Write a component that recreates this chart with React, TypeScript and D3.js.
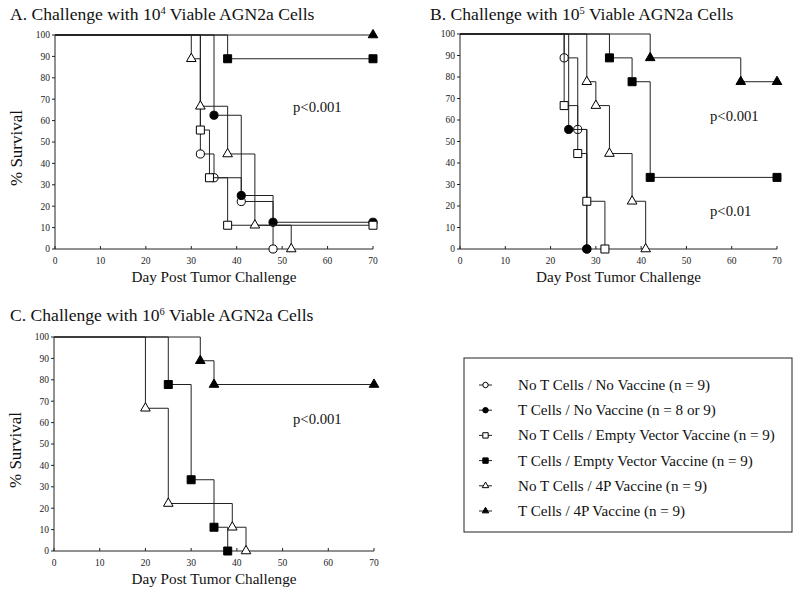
import React from 'react';
import * as d3 from 'd3';

type Pt = [number, number];

// Kaplan-Meier steps: [day, % survival after event]; first point is the start, last is the end of follow-up
const groupNames = [
  'No T Cells / No Vaccine (n = 9)',
  'T Cells / No Vaccine (n = 8 or 9)',
  'No T Cells / Empty Vector Vaccine (n = 9)',
  'T Cells / Empty Vector Vaccine (n = 9)',
  'No T Cells / 4P Vaccine (n = 9)',
  'T Cells / 4P Vaccine (n = 9)',
];
const groupShapes = ['circle', 'circle', 'square', 'square', 'triangle', 'triangle'];
const groupFilled = [false, true, false, true, false, true];

const panelA: (Pt[] | null)[] = [
  [[0, 100], [32, 44.4], [35, 33.3], [41, 22.2], [48, 0]],
  [[0, 100], [35, 62.5], [41, 25], [48, 12.5], [70, 12.5]],
  [[0, 100], [32, 55.6], [34, 33.3], [38, 11.1], [70, 11.1]],
  [[0, 100], [38, 88.9], [70, 88.9]],
  [[0, 100], [30, 88.9], [32, 66.7], [38, 44.4], [44, 11.1], [52, 0]],
  [[0, 100], [70, 100]],
];
const panelB: (Pt[] | null)[] = [
  [[0, 100], [23, 88.9], [26, 55.6], [28, 0]],
  [[0, 100], [24, 55.6], [28, 0]],
  [[0, 100], [23, 66.7], [26, 44.4], [28, 22.2], [32, 0]],
  [[0, 100], [33, 88.9], [38, 77.8], [42, 33.3], [70, 33.3]],
  [[0, 100], [28, 77.8], [30, 66.7], [33, 44.4], [38, 22.2], [41, 0]],
  [[0, 100], [42, 88.9], [62, 77.8], [70, 77.8]],
];
const panelC: (Pt[] | null)[] = [
  null,
  null,
  null,
  [[0, 100], [25, 77.8], [30, 33.3], [35, 11.1], [38, 0]],
  [[0, 100], [20, 66.7], [25, 22.2], [39, 11.1], [42, 0]],
  [[0, 100], [32, 88.9], [35, 77.8], [70, 77.8]],
];

const xTicks = [0, 10, 20, 30, 40, 50, 60, 70];
const yTicks = [0, 10, 20, 30, 40, 50, 60, 70, 80, 90, 100];

const FONT = '"Liberation Serif", "Times New Roman", serif';

const symFor = (s: string) =>
  s === 'circle' ? d3.symbolCircle : s === 'square' ? d3.symbolSquare : d3.symbolTriangle;
const sizeFor = (s: string) => (s === 'circle' ? 52 : s === 'square' ? 64 : 40);

interface PanelProps {
  x0: number; x1: number; yTop: number; yBot: number;
  letter: string; exp: string; titleX: number; titleY: number;
  series: (Pt[] | null)[];
  pvals: { text: string; x: number; y: number }[];
  yLabel: boolean;
}

const Panel: React.FC<PanelProps> = (p) => {
  const x = d3.scaleLinear().domain([0, 70]).range([p.x0, p.x1]);
  const y = d3.scaleLinear().domain([0, 100]).range([p.yBot, p.yTop]);
  const line = d3.line<Pt>().x(d => x(d[0])).y(d => y(d[1])).curve(d3.curveStepAfter);
  return (
    <g fontFamily={FONT}>
      <text x={p.titleX} y={p.titleY} fontSize={17.6} fill="#111">
        {p.letter}. Challenge with 10<tspan dy={-6.5} fontSize={10.5}>{p.exp}</tspan>
        <tspan dy={6.5}> Viable AGN2a Cells</tspan>
      </text>
      {/* axes */}
      <line x1={p.x0} x2={p.x0} y1={p.yTop} y2={p.yBot} stroke="#222" />
      <line x1={p.x0} x2={p.x1} y1={p.yBot} y2={p.yBot} stroke="#222" />
      {yTicks.map(t => (
        <g key={'y' + t}>
          <line x1={p.x0 - 3} x2={p.x0} y1={y(t)} y2={y(t)} stroke="#222" />
          <text x={p.x0 - 5} y={y(t) + 3.3} fontSize={9.5} textAnchor="end" fill="#222">{t}</text>
        </g>
      ))}
      {xTicks.map(t => (
        <g key={'x' + t}>
          <line x1={x(t)} x2={x(t)} y1={p.yBot} y2={p.yBot - 3} stroke="#222" />
          <text x={x(t)} y={p.yBot + 15} fontSize={9.5} textAnchor="middle" fill="#222">{t}</text>
        </g>
      ))}
      <text x={(p.x0 + p.x1) / 2} y={p.yBot + 33} fontSize={15.2} textAnchor="middle" fill="#111">
        Day Post Tumor Challenge
      </text>
      {p.yLabel && (
        <text transform={`translate(${p.x0 - 33},${(p.yTop + p.yBot) / 2 + 6}) rotate(-90)`}
          fontSize={17} textAnchor="middle" fill="#111">% Survival</text>
      )}
      {p.series.map((s, i) => s && (
        <g key={'s' + i}>
          <path d={line(s) || ''} fill="none" stroke="#222" strokeWidth={1} />
          {s.slice(1).map((d, j) => (
            <path key={j}
              transform={`translate(${x(d[0])},${y(d[1])})`}
              d={d3.symbol().type(symFor(groupShapes[i])).size(sizeFor(groupShapes[i]))() || ''}
              fill={groupFilled[i] ? '#000' : '#fff'} stroke="#000" strokeWidth={1} />
          ))}
        </g>
      ))}
      {p.pvals.map((v, i) => (
        <text key={'p' + i} x={v.x} y={v.y} fontSize={14.7} fill="#111">{v.text}</text>
      ))}
    </g>
  );
};

const Legend: React.FC = () => {
  const bx = 464, by = 358, bw = 328, bh = 174;
  const rowY = d3.scaleLinear().domain([0, 5]).range([385, 511]);
  return (
    <g fontFamily={FONT}>
      <rect x={bx} y={by} width={bw} height={bh} fill="none" stroke="#222" strokeWidth={1} />
      {groupNames.map((n, i) => (
        <g key={n}>
          <line x1={479} x2={492} y1={rowY(i)} y2={rowY(i)} stroke="#222" />
          <path transform={`translate(485.5,${rowY(i)})`}
            d={d3.symbol().type(symFor(groupShapes[i])).size(sizeFor(groupShapes[i]) * 0.45)() || ''}
            fill={groupFilled[i] ? '#000' : '#fff'} stroke="#000" />
          <text x={518} y={rowY(i) + 5} fontSize={15.1} fill="#111">{n}</text>
        </g>
      ))}
    </g>
  );
};

export default function App() {
  return (
    <div style={{ position: 'absolute', left: 0, top: 0 }}>
      <svg width={800} height={594} style={{ display: 'block', background: '#fff' }}>
        <Panel x0={55} x1={373} yTop={35} yBot={249} letter="A" exp="4" titleX={10} titleY={20}
          series={panelA} yLabel pvals={[{ text: 'p<0.001', x: 293, y: 112 }]} />
        <Panel x0={460} x1={777} yTop={34} yBot={249} letter="B" exp="5" titleX={430} titleY={20}
          series={panelB} yLabel={false}
          pvals={[{ text: 'p<0.001', x: 710, y: 121 }, { text: 'p<0.01', x: 710, y: 216 }]} />
        <Panel x0={54} x1={374} yTop={337} yBot={551} letter="C" exp="6" titleX={10} titleY={321}
          series={panelC} yLabel pvals={[{ text: 'p<0.001', x: 293, y: 424 }]} />
        <Legend />
      </svg>
    </div>
  );
}
